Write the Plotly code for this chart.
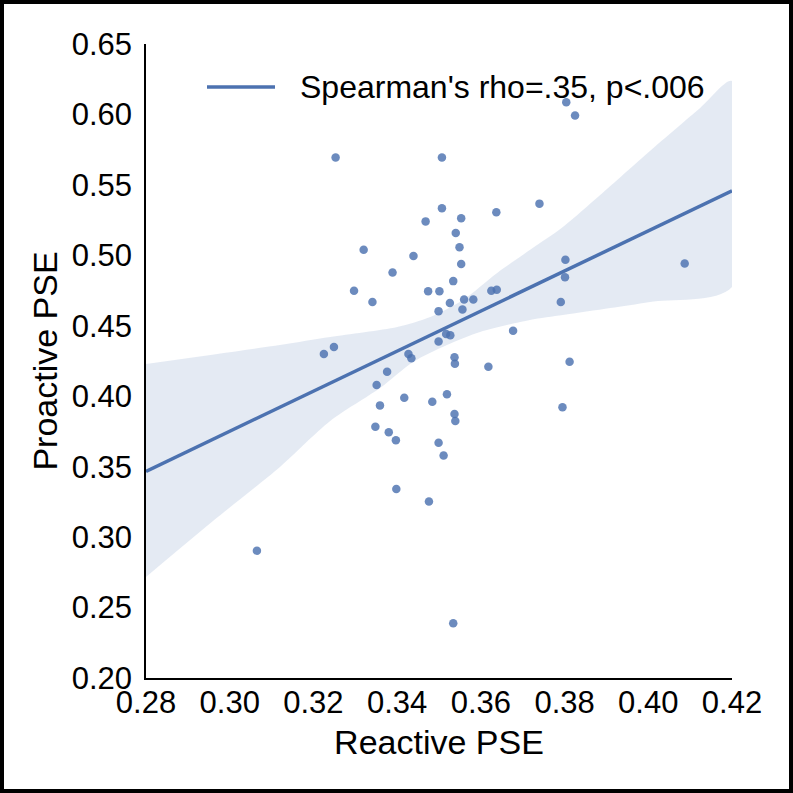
import numpy as np
import plotly.graph_objects as go

# Scatter data
reactive = [0.3253, 0.3507, 0.3804, 0.3825, 0.3507, 0.3468, 0.3553, 0.3637, 0.3740, 0.3540,
            0.3549, 0.3553, 0.3320, 0.3439, 0.3389, 0.3297, 0.3341, 0.3474, 0.3501, 0.3534,
            0.3526, 0.3499, 0.3560, 0.3582, 0.3556, 0.3625, 0.3638, 0.3802, 0.3801, 0.3791,
            0.4087, 0.3677, 0.3517, 0.3527, 0.3499, 0.3537, 0.3538, 0.3618, 0.3812, 0.3225,
            0.3249, 0.3427, 0.3434, 0.3376, 0.3351, 0.3359, 0.3417, 0.3484, 0.3519, 0.3537,
            0.3539, 0.3795, 0.3348, 0.3380, 0.3397, 0.3499, 0.3511, 0.3398, 0.3476, 0.3065,
            0.3534]
proactive = [0.5694, 0.5694, 0.6086, 0.5993, 0.5335, 0.5241, 0.5263, 0.5306, 0.5367, 0.5158,
             0.5058, 0.4939, 0.5040, 0.4996, 0.4878, 0.4748, 0.4669, 0.4745, 0.4745, 0.4817,
             0.4662, 0.4604, 0.4687, 0.4687, 0.4615, 0.4748, 0.4755, 0.4968, 0.4845, 0.4669,
             0.4942, 0.4464, 0.4442, 0.4432, 0.4388, 0.4277, 0.4230, 0.4209, 0.4245, 0.4299,
             0.4349, 0.4299, 0.4270, 0.4173, 0.4079, 0.3935, 0.3989, 0.3960, 0.4014, 0.3874,
             0.3824, 0.3921, 0.3784, 0.3745, 0.3687, 0.3669, 0.3579, 0.3342, 0.3252, 0.2903,
             0.2388]

# Confidence band edges
band_x_upper = [0.2800, 0.3120, 0.3240, 0.3400, 0.3479, 0.3557, 0.3639, 0.3717, 0.3796,
                0.3885, 0.4004, 0.4124, 0.4200]
band_upper = [0.4229, 0.4364, 0.4420, 0.4491, 0.4562, 0.4683, 0.4875, 0.5038, 0.5201,
              0.5428, 0.5741, 0.6046, 0.6237]
band_x_lower = [0.2800, 0.2960, 0.3120, 0.3240, 0.3359, 0.3438, 0.3519, 0.3598, 0.3717,
                0.3796, 0.3909, 0.4004, 0.4200]
band_lower = [0.2717, 0.3114, 0.3498, 0.3824, 0.4058, 0.4243, 0.4364, 0.4456, 0.4541,
              0.4576, 0.4626, 0.4669, 0.4775]

x_ticks = [0.28, 0.30, 0.32, 0.34, 0.36, 0.38, 0.40, 0.42]
y_ticks = [0.20, 0.25, 0.30, 0.35, 0.40, 0.45, 0.50, 0.55, 0.60, 0.65]
legend_label = "Spearman's rho=.35, p<.006"

# Linear fit from the scatter data
slope, intercept = np.polyfit(reactive, proactive, 1)
fit_x = np.array([0.28, 0.42])
fit_y = slope * fit_x + intercept

BLUE = "#4C72B0"
FONT = "Liberation Sans, Arial, Helvetica, sans-serif"

fig = go.Figure()
band_poly_x = list(band_x_upper) + list(band_x_lower[::-1])
band_poly_y = list(band_upper) + list(band_lower[::-1])
fig.add_trace(go.Scatter(x=band_poly_x, y=band_poly_y, mode="lines", fill="toself",
                         fillcolor="rgba(76,114,176,0.15)", line=dict(width=0, shape="spline", smoothing=0.8),
                         hoverinfo="skip", showlegend=False))
fig.add_trace(go.Scatter(x=reactive, y=proactive, mode="markers",
                         marker=dict(size=8.5, color="rgba(76,114,176,0.82)", line=dict(width=0)),
                         showlegend=False))
fig.add_trace(go.Scatter(x=fit_x, y=fit_y, mode="lines", line=dict(color=BLUE, width=3.5),
                         name=legend_label, showlegend=False))

L, R, T, B = 146, 61, 44, 115
W = H = 793
pw, ph = W - L - R, H - T - B

def px_x(p):
    return (p - L) / pw

def px_y(p):
    return (H - B - p) / ph

# Legend (drawn manually to match line length)
fig.add_shape(type="line", xref="paper", yref="paper", x0=px_x(207), x1=px_x(275),
              y0=px_y(87), y1=px_y(87), line=dict(color=BLUE, width=3.5))
fig.add_annotation(xref="paper", yref="paper", x=px_x(298), y=px_y(87), text=legend_label,
                   showarrow=False, xanchor="left", yanchor="middle",
                   font=dict(family=FONT, size=32, color="black"))
# Outer frame
fig.add_shape(type="rect", xref="paper", yref="paper", x0=px_x(2), x1=px_x(791),
              y0=px_y(791), y1=px_y(2), line=dict(color="black", width=4), layer="above")

fig.update_layout(
    width=W, height=H, margin=dict(l=L, r=R, t=T, b=B, pad=0),
    plot_bgcolor="white", paper_bgcolor="white",
    font=dict(family=FONT, color="black"),
)
fig.update_xaxes(range=[0.28, 0.42], tickvals=x_ticks, ticktext=[f"{v:.2f}" for v in x_ticks],
                 showgrid=False, zeroline=False, showline=True, linecolor="black", linewidth=1.5,
                 ticks="", tickfont=dict(size=31, family=FONT, color="black"), ticklabelstandoff=-4,
                 title=dict(text="Reactive PSE", font=dict(size=34, family=FONT, color="black"), standoff=11))
fig.update_yaxes(range=[0.20, 0.65], tickvals=y_ticks, ticktext=[f"{v:.2f}" for v in y_ticks],
                 showgrid=False, zeroline=False, showline=True, linecolor="black", linewidth=1.5,
                 ticks="", tickfont=dict(size=31, family=FONT, color="black"), ticklabelstandoff=6,
                 title=dict(text="Proactive PSE", font=dict(size=34, family=FONT, color="black"), standoff=4))

fig.write_html("out.html", config={"displayModeBar": False},
               post_script="document.body.style.margin='0';document.body.style.padding='0';")
